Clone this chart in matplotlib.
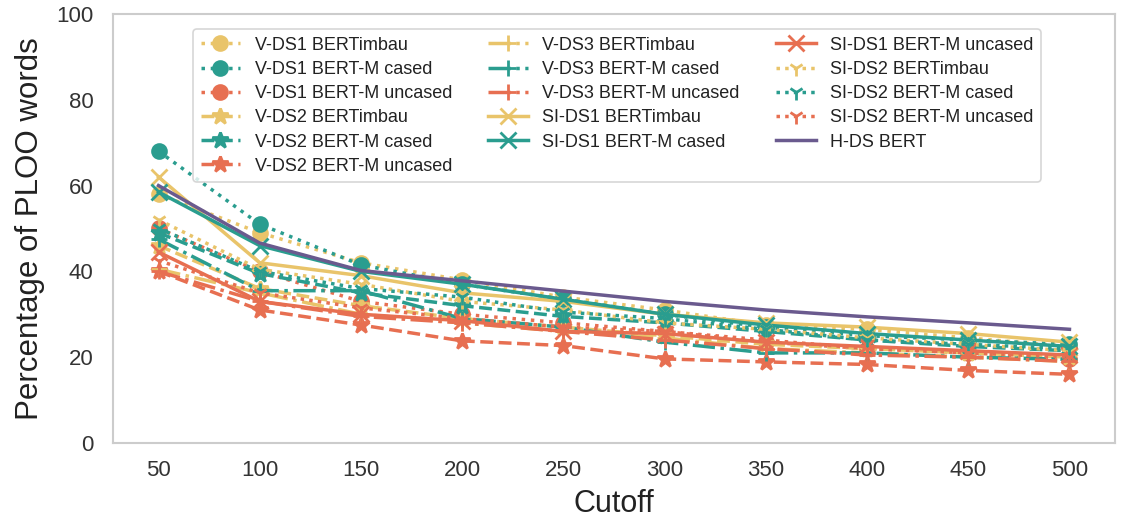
import matplotlib
matplotlib.use('Agg')
import matplotlib.pyplot as plt

# Cutoff values
cutoffs = [50, 100, 150, 200, 250, 300, 350, 400, 450, 500]

# Percentage of PLOO words per model / dataset
vds1_timbau = [58, 49, 42, 38, 34, 31, 27.5, 26.5, 24.5, 22.5]
vds1_cased = [68, 51, 41.5, 37, 33.5, 30, 27, 25, 24, 23]
vds1_uncased = [50, 40, 33, 30, 28, 26, 23.5, 22, 21, 19.5]
vds2_timbau = [46, 36, 32, 29, 27, 25, 23, 22, 21, 20]
vds2_cased = [49, 39.5, 35, 32, 29.5, 28, 26, 24, 22.5, 21.5]
vds2_uncased = [40, 31, 27.5, 23.8, 22.7, 19.6, 18.9, 18.3, 16.9, 16]
vds3_timbau = [40.5, 35, 30, 28, 26, 24.5, 22, 21, 20, 19]
vds3_cased = [47.5, 35.5, 35.5, 29, 27, 23.5, 21, 21, 20, 19.5]
vds3_uncased = [40, 33, 29.5, 28, 26, 24, 22, 20.5, 20, 19]
sids1_timbau = [62, 42, 39, 35, 33, 30, 28, 27, 25.5, 23.5]
sids1_cased = [58.5, 46, 40, 37, 33.5, 30, 27.5, 25.5, 24, 22.5]
sids1_uncased = [44.5, 33, 30, 28.5, 26, 25.5, 23.5, 22.5, 21.5, 20.5]
sids2_timbau = [52, 40.5, 37, 33, 31, 28, 26.5, 24.5, 23, 21.5]
sids2_cased = [50, 40, 36, 34, 30.5, 29, 26.5, 24, 23, 22]
sids2_uncased = [42.5, 35, 31.5, 29, 27, 26, 24, 22, 21, 20]
hds_bert = [60, 46.6, 40.2, 37.8, 35.4, 33, 31, 29.4, 28, 26.5]

YEL = '#E9C46A'
TEAL = '#2A9D8F'
ORG = '#E76F51'
PURP = '#6A5A8E'

series = [
    ('V-DS1 BERTimbau', vds1_timbau, YEL, ':', 'o'),
    ('V-DS1 BERT-M cased', vds1_cased, TEAL, ':', 'o'),
    ('V-DS1 BERT-M uncased', vds1_uncased, ORG, ':', 'o'),
    ('V-DS2 BERTimbau', vds2_timbau, YEL, '--', '*'),
    ('V-DS2 BERT-M cased', vds2_cased, TEAL, '--', '*'),
    ('V-DS2 BERT-M uncased', vds2_uncased, ORG, '--', '*'),
    ('V-DS3 BERTimbau', vds3_timbau, YEL, '-.', '+'),
    ('V-DS3 BERT-M cased', vds3_cased, TEAL, '-.', '+'),
    ('V-DS3 BERT-M uncased', vds3_uncased, ORG, '-.', '+'),
    ('SI-DS1 BERTimbau', sids1_timbau, YEL, '-', 'x'),
    ('SI-DS1 BERT-M cased', sids1_cased, TEAL, '-', 'x'),
    ('SI-DS1 BERT-M uncased', sids1_uncased, ORG, '-', 'x'),
    ('SI-DS2 BERTimbau', sids2_timbau, YEL, (0, (1, 1.5)), '1'),
    ('SI-DS2 BERT-M cased', sids2_cased, TEAL, (0, (1, 1.5)), '1'),
    ('SI-DS2 BERT-M uncased', sids2_uncased, ORG, (0, (1, 1.5)), '1'),
    ('H-DS BERT', hds_bert, PURP, '-', None),
]

plt.rcParams['font.family'] = ['Liberation Sans', 'DejaVu Sans']

fig = plt.figure(figsize=(11.24, 5.29), dpi=100)
ax = fig.add_axes([0.1005, 0.1626, 0.8915, 0.811])

for name, vals, col, ls, mk in series:
    ms = 12 if mk == '*' else (10 if mk in ('o',) else 11)
    ax.plot(cutoffs, vals, color=col, linestyle=ls, marker=mk, markersize=ms,
            linewidth=2.5, markeredgewidth=2, label=name)

ax.set_ylim(0, 100)
ax.set_xlim(27.5, 522.5)
ax.set_xticks(cutoffs)
ax.set_yticks([0, 20, 40, 60, 80, 100])
ax.tick_params(axis='both', labelsize=16, colors='#333333', length=0)
ax.tick_params(axis='y', pad=14)
ax.tick_params(axis='x', pad=12)
ax.set_xlabel('Cutoff', fontsize=22, color='#222222', labelpad=6)
ax.set_ylabel('Percentage of PLOO words', fontsize=22.5, color='#222222', labelpad=8)

for sp in ax.spines.values():
    sp.set_color('#cccccc')
    sp.set_linewidth(1.5)

leg = ax.legend(ncol=3, loc='upper center', bbox_to_anchor=(0.503, 0.985),
                fontsize=13, frameon=True, handlelength=2.2, columnspacing=2.0,
                labelspacing=0.4, borderpad=0.4)
leg.get_frame().set_edgecolor('#cccccc')
leg.get_frame().set_linewidth(1.2)
for t in leg.get_texts():
    t.set_color('#222222')

plt.savefig('out.png', dpi=100, facecolor='white')
plt.close(fig)
